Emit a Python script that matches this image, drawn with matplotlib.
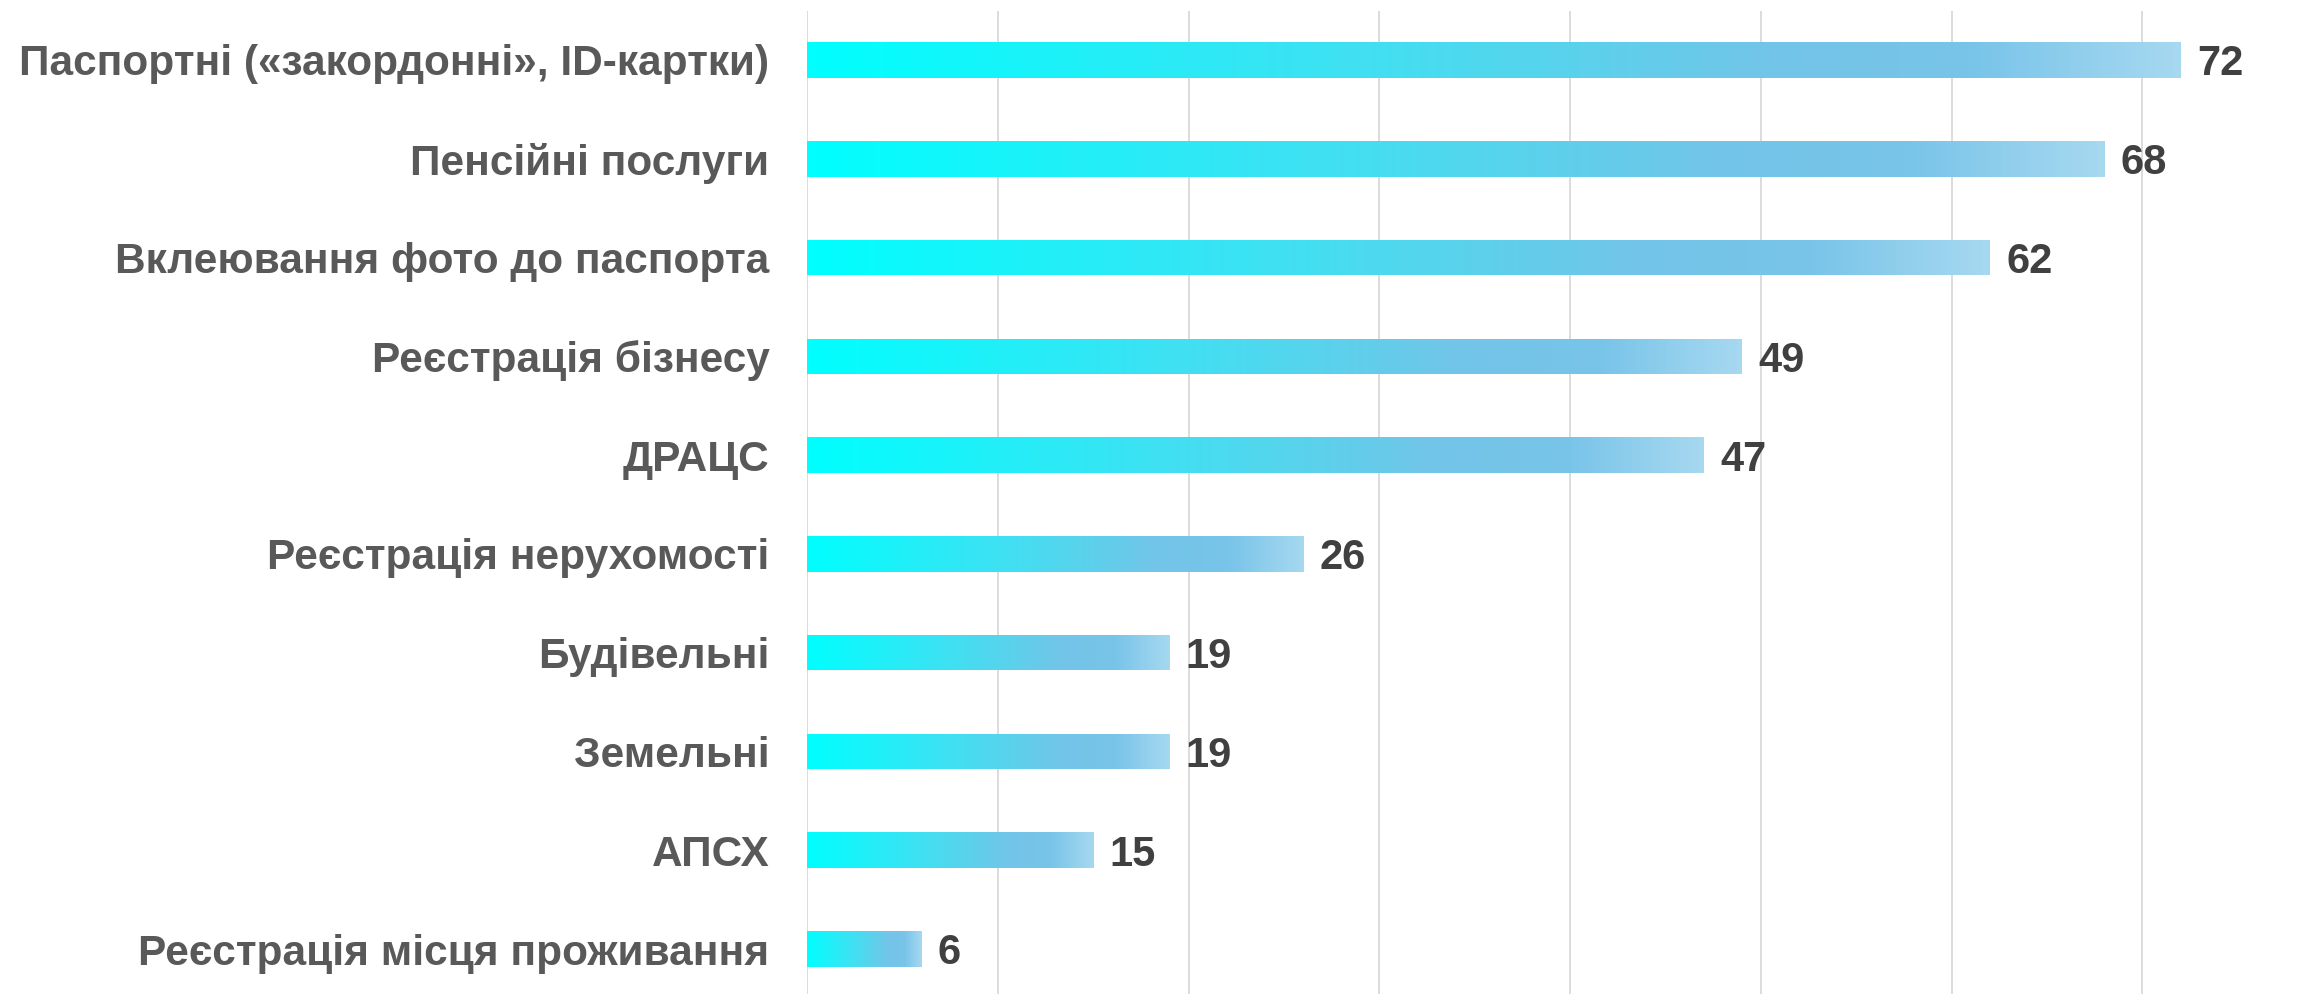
import numpy as np
import matplotlib.pyplot as plt
from matplotlib.colors import LinearSegmentedColormap

categories = [
    "Паспортні («закордонні», ID-картки)",
    "Пенсійні послуги",
    "Вклеювання фото до паспорта",
    "Реєстрація бізнесу",
    "ДРАЦС",
    "Реєстрація нерухомості",
    "Будівельні",
    "Земельні",
    "АПСХ",
    "Реєстрація місця проживання",
]
values = [72, 68, 62, 49, 47, 26, 19, 19, 15, 6]

grad = LinearSegmentedColormap.from_list(
    "bar", [(0.0, "#00FFFF"), (0.4, "#40E0F2"), (0.7, "#72C5E8"),
            (0.85, "#78C4E9"), (1.0, "#A6D8F0")])

fig = plt.figure(figsize=(23.18, 9.94), dpi=100)
ax = fig.add_axes([807 / 2318, 0, 1 - 807 / 2318, 1 - 11 / 994])

y = np.arange(len(categories))
bars = ax.barh(y, values, height=0.36, color="none", edgecolor="none", zorder=2)

# each bar gets its own left-to-right gradient
g = np.linspace(0, 1, 256).reshape(1, -1)
for b in bars:
    x0, y0 = b.get_x(), b.get_y()
    w, h = b.get_width(), b.get_height()
    im = ax.imshow(g, cmap=grad, aspect="auto", extent=[x0, x0 + w, y0 + h, y0],
                   zorder=2, interpolation="bilinear")
    im.set_clip_path(b)

for yi, v in zip(y, values):
    ax.text(v + 0.85, yi + 0.045, str(v), va="center", ha="left", fontsize=30,
            fontweight="bold", color="#404040",
            family=["Liberation Sans", "DejaVu Sans"])

ax.set_xlim(0, 79.2)
ax.set_ylim(len(categories) - 1 + 0.455, -0.496)
ax.set_xticks(np.arange(0, 80, 10))
ax.xaxis.grid(True, color="#D9D9D9", linewidth=1.3, zorder=0)
ax.set_axisbelow(True)
ax.tick_params(axis="x", length=0, labelbottom=False)
ax.tick_params(axis="y", length=0, pad=27)
ax.set_yticks(y)
ax.set_yticklabels(categories, fontsize=30.5, fontweight="bold", color="#595959",
                   family=["Liberation Sans", "DejaVu Sans"])
for s in ax.spines.values():
    s.set_visible(False)

plt.savefig("out.png", dpi=100)
